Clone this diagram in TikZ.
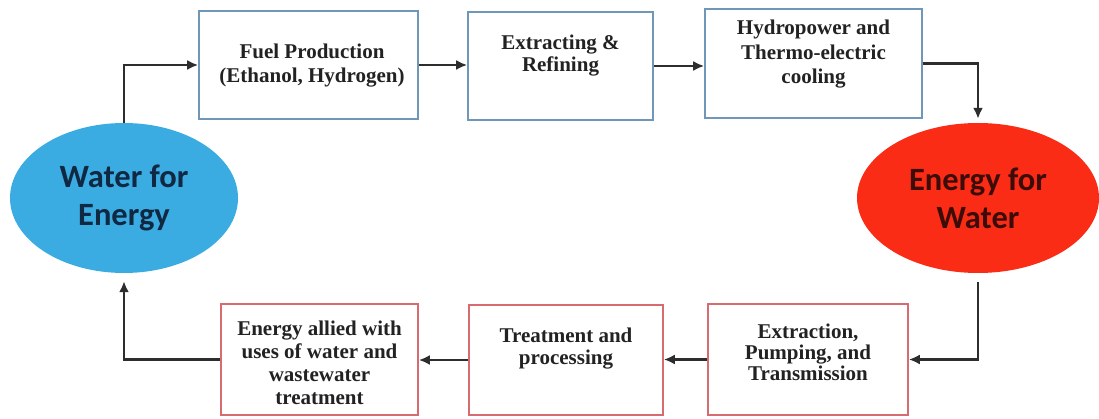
\documentclass[tikz,border=0pt]{standalone}
\usepackage{fontspec}
\setmainfont{Liberation Serif}
\newfontfamily\calfont{Carlito}
\usetikzlibrary{arrows.meta,shapes.geometric}
\definecolor{bluebd}{RGB}{112,150,184}
\definecolor{redbd}{RGB}{214,108,112}
\definecolor{skyb}{RGB}{58,172,226}
\definecolor{redell}{RGB}{250,44,22}
\definecolor{txt}{RGB}{34,34,34}
\definecolor{navy}{RGB}{16,40,66}
\definecolor{darkred}{RGB}{60,12,8}
\definecolor{arrc}{RGB}{45,45,45}
\begin{document}
\begin{tikzpicture}[x=1pt,y=-1pt,
  topbox/.style={draw=bluebd,line width=1.6pt,inner sep=0pt,fill=white},
  botbox/.style={draw=redbd,line width=1.6pt,inner sep=0pt,fill=white},
  lbl/.style={font=\bfseries\fontsize{21}{#1}\selectfont,align=center,text=txt,inner sep=0pt},
  lbl/.default=23,
  ell/.style={ellipse,inner sep=0pt,align=center,font=\calfont\bfseries\fontsize{32.5}{38}\selectfont},
  arr/.style={draw=arrc,line width=2.6pt,-{Latex[length=11pt,width=10pt]}},
  arrthin/.style={draw=arrc,line width=2.2pt,-{Latex[length=11pt,width=10pt]}}]
\useasboundingbox (0,0) rectangle (1099,419);
% top boxes
\node[topbox,minimum width=219pt,minimum height=108pt] (b1) at (308.5,65) {};
\node[topbox,minimum width=185pt,minimum height=108pt] (b2) at (560.5,66) {};
\node[topbox,minimum width=217pt,minimum height=109pt] (b3) at (813.5,63.5) {};
% bottom boxes
\node[botbox,minimum width=197pt,minimum height=111pt] (b4) at (319.5,359.5) {};
\node[botbox,minimum width=194pt,minimum height=110pt] (b5) at (566,360) {};
\node[botbox,minimum width=200pt,minimum height=111pt] (b6) at (808,359.5) {};
% labels
\node[lbl=24] (t1) at (312,66) {Fuel Production\\(Ethanol, Hydrogen)};
\node[lbl=22] (t2) at (560.5,56) {Extracting \&\\Refining};
\node[lbl=24.5] (t3) at (813.5,54.5) {Hydropower and\\Thermo-electric\\cooling};
\node[lbl] (t4) at (319.5,362.5) {Energy allied with\\uses of water and\\wastewater\\treatment};
\node[lbl=22] (t5) at (566,349) {Treatment and\\processing};
\node[lbl=21] (t6) at (808,352.5) {Extraction,\\Pumping, and\\Transmission};
% ellipses
\node[ell,fill=skyb,text=navy,minimum width=228pt,minimum height=150pt] (le) at (124,198) {Water for\\Energy};
\node[ell,fill=redell,text=darkred,minimum width=242pt,minimum height=150pt] (re) at (978,198) {Energy for\\Water};
% connectors
\draw[arr] (le.north) |- (b1.west);
\draw[arrthin] (b1.east) -- (b1.east -| b2.west);
\draw[arrthin] (b2.east) -- (b2.east -| b3.west);
\draw[arr,shorten >=4pt] (b3.east) -| (re.north);
\draw[arr,shorten <=9pt] (re.south) |- (b6.east);
\draw[arrthin] (b6.west) -- (b6.west -| b5.east);
\draw[arrthin] (b5.west) -- (b5.west -| b4.east);
\draw[arr,shorten >=8pt] (b4.west) -| (le.south);
\end{tikzpicture}
\end{document}
